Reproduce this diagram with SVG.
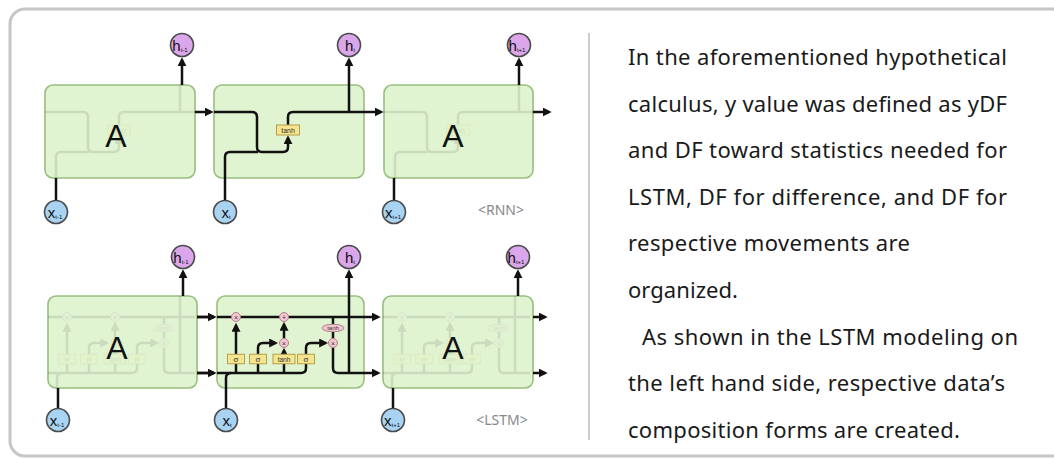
<svg xmlns="http://www.w3.org/2000/svg" xmlns:xlink="http://www.w3.org/1999/xlink" width="1054" height="459" viewBox="0 0 1054 459">
<style>
.box{fill:#e0f4d2;stroke:#98bf7e;stroke-width:1.6}
.ln{fill:none;stroke:#111;stroke-width:2.5}
.gate{fill:#f6e48e;stroke:#b4a04a;stroke-width:1}
.op{fill:#f4c8d2;stroke:#b07d8a;stroke-width:1}
.hc{fill:#dba6ea;stroke:#4a4a4a;stroke-width:1.6}
.xc{fill:#a9d3f3;stroke:#4a4a4a;stroke-width:1.6}
.cl{font-family:"Liberation Sans",Arial,sans-serif;font-size:15px;fill:#111;text-anchor:middle}
.sub{font-size:6px}
.big{font-family:"Liberation Sans",Arial,sans-serif;font-size:32px;fill:#111;text-anchor:middle}
.gt{font-family:"Liberation Sans",Arial,sans-serif;fill:#333;text-anchor:middle}
.tag{font-family:"Noto Sans","Liberation Sans",sans-serif;font-size:14px;fill:#888;text-anchor:middle}
.body{font-family:"Noto Sans","Liberation Sans",sans-serif;font-size:22px;fill:#1a1a1a}
</style>
<defs>
<marker id="ah" viewBox="0 0 10 10" refX="7" refY="5" markerWidth="9" markerHeight="9" markerUnits="userSpaceOnUse" orient="auto"><path d="M0,0 L10,5 L0,10 z" fill="#111"/></marker>
<g id="rnnCore">
<path class="ln" d="M214,112 H252 Q257,112 257,117 V147 Q257,152 262,152 H283 Q288,152 288,147 V138" marker-end="url(#ah)"/>
<path class="ln" d="M225,178 V157 Q225,152 230,152 H258"/>
<path class="ln" d="M288,125 V117 Q288,112 293,112 H364"/>
<path class="ln" d="M349,112 V85"/>
<rect class="gate" x="276.5" y="125" width="23" height="10"/>
<text class="gt" x="288" y="132.5" font-size="7">tanh</text>
</g>
<g id="lstmCore">
<path class="ln" d="M217,317 H364"/>
<path class="ln" d="M217,373 H301 Q306,373 306,368 V363.75"/>
<path class="ln" d="M226,388 V378 Q226,373 231,373"/>
<path class="ln" d="M236,373 V363.75 M258,373 V363.75 M284,373 V363.75"/>
<path class="ln" d="M236,354.25 V325.5" marker-end="url(#ah)"/>
<path class="ln" d="M258,354.25 V348 Q258,343 263,343 H275.5" marker-end="url(#ah)"/>
<path class="ln" d="M284,354.25 V350.5" marker-end="url(#ah)"/>
<path class="ln" d="M284,338.5 V324.5" marker-end="url(#ah)"/>
<path class="ln" d="M306,354.25 V348 Q306,343 311,343 H325.5" marker-end="url(#ah)"/>
<path class="ln" d="M333,317 V324.25 M333,331.75 V338.5"/>
<path class="ln" d="M333,347.5 V368 Q333,373 338,373 H364"/>
<path class="ln" d="M349,373 V296"/>
<circle class="op" cx="236" cy="317" r="4.5"/>
<circle class="op" cx="284" cy="317" r="4.5"/>
<circle class="op" cx="284" cy="343" r="4.5"/>
<circle class="op" cx="333" cy="343" r="4.5"/>
<ellipse class="op" cx="333" cy="328" rx="11" ry="3.75"/>
<text class="gt" x="236" y="319.5" font-size="7">×</text>
<text class="gt" x="284" y="319.5" font-size="7">+</text>
<text class="gt" x="284" y="345.5" font-size="7">×</text>
<text class="gt" x="333" y="345.5" font-size="7">×</text>
<text class="gt" x="333" y="330.3" font-size="6">tanh</text>
<rect class="gate" x="227.5" y="354.25" width="17" height="9.5"/>
<rect class="gate" x="249.5" y="354.25" width="17" height="9.5"/>
<rect class="gate" x="273" y="354.25" width="22" height="9.5"/>
<rect class="gate" x="297.5" y="354.25" width="17" height="9.5"/>
<text class="gt" x="236" y="362" font-size="8">σ</text>
<text class="gt" x="258" y="362" font-size="8">σ</text>
<text class="gt" x="284" y="361.5" font-size="6.5">tanh</text>
<text class="gt" x="306" y="362" font-size="8">σ</text>
</g>
</defs>
<rect x="10" y="9" width="1075" height="447" rx="15" fill="#fff" stroke="#c6c6c6" stroke-width="3"/>

<!-- RNN -->
<g id="rnn-A1"><rect class="box" x="45" y="85" width="150" height="93" rx="8"/><use xlink:href="#rnnCore" transform="translate(-169,0)" opacity="0.1"/><text class="big" x="116" y="146.5">A</text></g>
<g id="rnn-A2"><rect class="box" x="214" y="85" width="150" height="93" rx="8"/><use xlink:href="#rnnCore"/></g>
<g id="rnn-A3"><rect class="box" x="384" y="85" width="149" height="93" rx="8"/><use xlink:href="#rnnCore" transform="translate(170,0)" opacity="0.1"/><text class="big" x="453" y="146.5">A</text></g>

<!-- LSTM -->
<g id="lstm-A1"><rect class="box" x="48" y="296" width="149" height="92" rx="8"/><use xlink:href="#lstmCore" transform="translate(-169,0)" opacity="0.1"/><text class="big" x="117" y="358.5">A</text></g>
<g id="lstm-A2"><rect class="box" x="217" y="296" width="147" height="92" rx="8"/><use xlink:href="#lstmCore"/></g>
<g id="lstm-A3"><rect class="box" x="383" y="296" width="150" height="92" rx="8"/><use xlink:href="#lstmCore" transform="translate(166,0)" opacity="0.1"/><text class="big" x="453" y="358.5">A</text></g>

<g id="connectors">
<path class="ln" d="M182,85 V60" marker-end="url(#ah)"/>
<path class="ln" d="M56,200 V178"/>
<path class="ln" d="M195,112 H211" marker-end="url(#ah)"/>
<path class="ln" d="M349,85 V60" marker-end="url(#ah)"/>
<path class="ln" d="M225,200 V178"/>
<path class="ln" d="M364,112 H381" marker-end="url(#ah)"/>
<path class="ln" d="M519,85 V60" marker-end="url(#ah)"/>
<path class="ln" d="M394,200 V178"/>
<path class="ln" d="M533,112 H549" marker-end="url(#ah)"/>

<path class="ln" d="M197,317 H214 M197,373 H214" />
<path class="ln" d="M197,317 H214" marker-end="url(#ah)"/>
<path class="ln" d="M197,373 H214" marker-end="url(#ah)"/>
<path class="ln" d="M183,296 V272" marker-end="url(#ah)"/>
<path class="ln" d="M58,408 V388"/>
<path class="ln" d="M364,317 H378" marker-end="url(#ah)"/>
<path class="ln" d="M364,373 H378" marker-end="url(#ah)"/>
<path class="ln" d="M349,296 V272" marker-end="url(#ah)"/>
<path class="ln" d="M226,408 V388"/>
<path class="ln" d="M533,317 H545" marker-end="url(#ah)"/>
<path class="ln" d="M533,373 H545" marker-end="url(#ah)"/>
<path class="ln" d="M518,296 V272" marker-end="url(#ah)"/>
<path class="ln" d="M393,408 V388"/>
</g>

<g id="h1"><circle class="hc" cx="182" cy="45" r="11.5"/><text class="cl" x="180" y="50.5">h<tspan class="sub" dy="1">t-1</tspan></text></g>
<g id="h2"><circle class="hc" cx="349" cy="45" r="11.5"/><text class="cl" x="350" y="50.5">h<tspan class="sub" dy="1">t</tspan></text></g>
<g id="h3"><circle class="hc" cx="519" cy="45" r="11.5"/><text class="cl" x="517" y="50.5">h<tspan class="sub" dy="1">t+1</tspan></text></g>
<g id="x1"><circle class="xc" cx="56" cy="212" r="11.5"/><text class="cl" x="55" y="217.5">x<tspan class="sub" dy="1">t-1</tspan></text></g>
<g id="x2"><circle class="xc" cx="225" cy="212" r="11.5"/><text class="cl" x="226" y="217.5">x<tspan class="sub" dy="1">t</tspan></text></g>
<g id="x3"><circle class="xc" cx="394" cy="212" r="11.5"/><text class="cl" x="393" y="217.5">x<tspan class="sub" dy="1">t+1</tspan></text></g>
<g id="h4"><circle class="hc" cx="183" cy="257" r="11.5"/><text class="cl" x="181" y="262.5">h<tspan class="sub" dy="1">t-1</tspan></text></g>
<g id="h5"><circle class="hc" cx="349" cy="257" r="11.5"/><text class="cl" x="350" y="262.5">h<tspan class="sub" dy="1">t</tspan></text></g>
<g id="h6"><circle class="hc" cx="518" cy="257" r="11.5"/><text class="cl" x="516" y="262.5">h<tspan class="sub" dy="1">t+1</tspan></text></g>
<g id="x4"><circle class="xc" cx="58" cy="420" r="11.5"/><text class="cl" x="57" y="425.5">x<tspan class="sub" dy="1">t-1</tspan></text></g>
<g id="x5"><circle class="xc" cx="226" cy="420" r="11.5"/><text class="cl" x="227" y="425.5">x<tspan class="sub" dy="1">t</tspan></text></g>
<g id="x6"><circle class="xc" cx="393" cy="420" r="11.5"/><text class="cl" x="392" y="425.5">x<tspan class="sub" dy="1">t+1</tspan></text></g>

<text class="tag" x="501" y="215">&lt;RNN&gt;</text>
<text class="tag" x="502" y="425">&lt;LSTM&gt;</text>

<line x1="589" y1="33" x2="589" y2="440" stroke="#bdbdbd" stroke-width="1.5"/>

<g class="body">
<text x="628" y="65" textLength="379" lengthAdjust="spacing">In the aforementioned hypothetical</text>
<text x="628" y="111.6" textLength="379" lengthAdjust="spacing">calculus,  y value was defined as yDF</text>
<text x="628" y="158.2" textLength="379" lengthAdjust="spacing">and DF toward statistics  needed for</text>
<text x="628" y="204.8" textLength="379" lengthAdjust="spacing">LSTM, DF for difference, and DF for</text>
<text x="628" y="251.4" textLength="282" lengthAdjust="spacing">respective movements are</text>
<text x="628" y="298" textLength="110" lengthAdjust="spacing">organized.</text>
<text x="642" y="344.6" textLength="376" lengthAdjust="spacing">As shown in the LSTM modeling on</text>
<text x="628" y="391.2" textLength="377" lengthAdjust="spacing">the left hand side, respective data’s</text>
<text x="628" y="437.8" textLength="332" lengthAdjust="spacing">composition forms are created.</text>
</g>
</svg>
